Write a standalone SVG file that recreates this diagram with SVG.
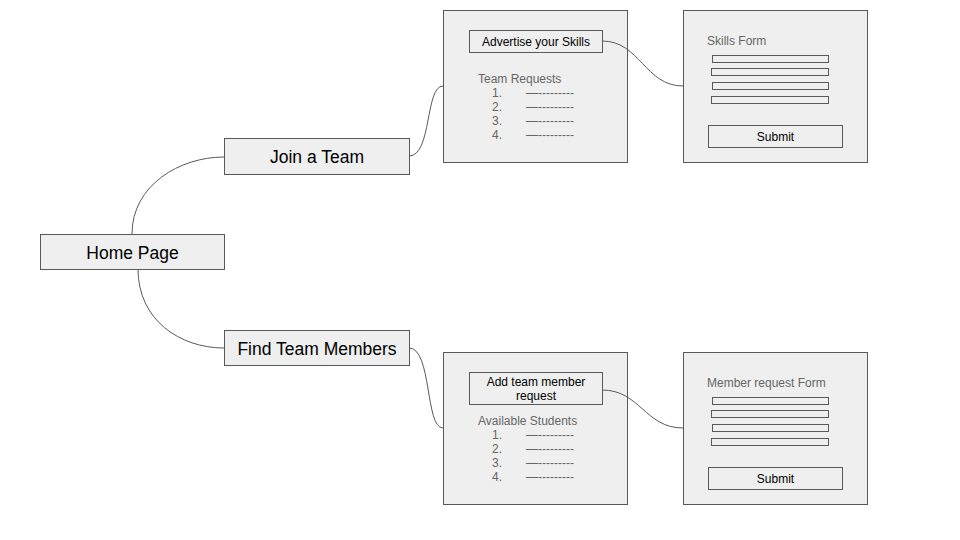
<svg xmlns="http://www.w3.org/2000/svg" width="960" height="540" viewBox="0 0 960 540">
<style>
.box{fill:#efefef;stroke:#595959;stroke-width:1}
.btn{fill:#efefef;stroke:#595959;stroke-width:1}
.field{fill:#efefef;stroke:#595959;stroke-width:1}
.big{font-family:"Liberation Sans",Arial,sans-serif;font-size:17.5px;fill:#000;text-anchor:middle}
.bt{font-family:"Liberation Sans",Arial,sans-serif;font-size:12px;fill:#000;text-anchor:middle}
.gr{font-family:"Liberation Sans",Arial,sans-serif;font-size:12px;fill:#666}
.conn{fill:none;stroke:#595959;stroke-width:1}
</style>
<rect width="960" height="540" fill="#fff"/>
<g id="home">
<rect class="box" x="40.5" y="234.5" width="184" height="35"/>
<text class="big" x="132.5" y="259">Home Page</text>
</g>
<g id="join">
<rect class="box" x="224.5" y="138.5" width="185" height="36"/>
<text class="big" x="317" y="163">Join a Team</text>
</g>
<g id="find">
<rect class="box" x="224.5" y="330.5" width="185" height="35"/>
<text class="big" x="317" y="355">Find Team Members</text>
</g>
<g id="team-requests">
<rect class="box" x="443.5" y="10.5" width="184" height="152"/>
<rect class="btn" x="469.5" y="30.5" width="133" height="22"/>
<text class="bt" x="536" y="46">Advertise your Skills</text>
<text class="gr" x="478" y="83">Team Requests</text>
<text class="gr" x="492" y="97">1.</text>
<text class="gr" x="492" y="111">2.</text>
<text class="gr" x="492" y="125">3.</text>
<text class="gr" x="492" y="139">4.</text>
<text class="gr" x="526" y="97">—---------</text>
<text class="gr" x="526" y="111">—---------</text>
<text class="gr" x="526" y="125">—---------</text>
<text class="gr" x="526" y="139">—---------</text>
</g>
<g id="skills-form">
<rect class="box" x="683.5" y="10.5" width="184" height="152"/>
<text class="gr" x="707" y="45">Skills Form</text>
<rect class="field" x="712.5" y="55.5" width="116" height="7"/>
<rect class="field" x="711.5" y="68.5" width="117" height="7"/>
<rect class="field" x="712.5" y="82.5" width="116" height="7"/>
<rect class="field" x="711.5" y="96.5" width="117" height="7"/>
<rect class="btn" x="708.5" y="125.5" width="134" height="22"/>
<text class="bt" x="775.5" y="141">Submit</text>
</g>
<g id="available-students">
<rect class="box" x="443.5" y="352.5" width="184" height="152"/>
<rect class="btn" x="469.5" y="372.5" width="133" height="32"/>
<text class="bt" x="536" y="386">Add team member</text>
<text class="bt" x="536" y="400">request</text>
<text class="gr" x="478" y="425">Available Students</text>
<text class="gr" x="492" y="439">1.</text>
<text class="gr" x="492" y="453">2.</text>
<text class="gr" x="492" y="467">3.</text>
<text class="gr" x="492" y="481">4.</text>
<text class="gr" x="526" y="439">—---------</text>
<text class="gr" x="526" y="453">—---------</text>
<text class="gr" x="526" y="467">—---------</text>
<text class="gr" x="526" y="481">—---------</text>
</g>
<g id="member-form">
<rect class="box" x="683.5" y="352.5" width="184" height="152"/>
<text class="gr" x="707" y="387">Member request Form</text>
<rect class="field" x="712.5" y="397.5" width="116" height="7"/>
<rect class="field" x="711.5" y="410.5" width="117" height="7"/>
<rect class="field" x="712.5" y="424.5" width="116" height="7"/>
<rect class="field" x="711.5" y="438.5" width="117" height="7"/>
<rect class="btn" x="708.5" y="467.5" width="134" height="22"/>
<text class="bt" x="775.5" y="483">Submit</text>
</g>
<g id="connectors">
<path class="conn" d="M132,234 C132,185 180,157 224,157"/>
<path class="conn" d="M138,269 C138,320 180,348 224,348"/>
<path class="conn" d="M409,156 C432,156 425,86 443,86"/>
<path class="conn" d="M409,348 C432,348 425,428 443,428"/>
<path class="conn" d="M602,41 C640,41 645,86 683,86"/>
<path class="conn" d="M602,390 C640,390 645,428 683,428"/>
</g>
</svg>
